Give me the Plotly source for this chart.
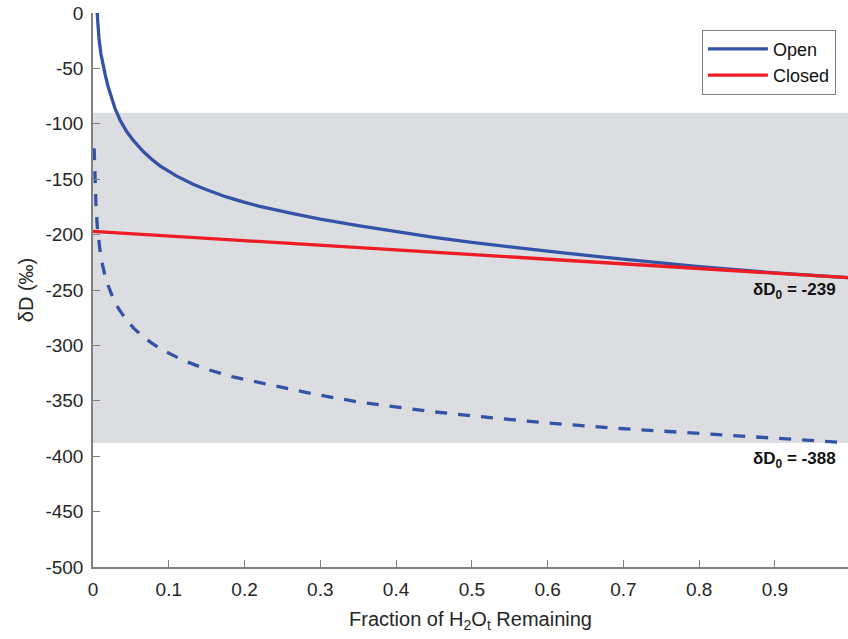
import plotly.graph_objects as go

# Fraction of H2Ot remaining and the modelled deltaD values (per mil)
open_f = [0.0055, 0.008, 0.0105, 0.0136, 0.0165, 0.0202, 0.025, 0.029, 0.036, 0.0444,
          0.0532, 0.0664, 0.0775, 0.0884, 0.11, 0.132, 0.15, 0.176, 0.198, 0.22,
          0.264, 0.3, 0.35, 0.405, 0.45, 0.5, 0.537, 0.6, 0.696, 0.8, 0.9, 1.0]
open_dd = [0, -24, -37, -48, -57, -67, -78, -86, -97, -107,
           -115, -125, -132, -138, -147, -154.5, -159.5, -166, -170.5, -174.5,
           -181, -186, -192, -198, -202.5, -207, -210, -215, -222, -229, -234.5, -239]

open_low_f = [0.0015, 0.0025, 0.004, 0.0057, 0.0092, 0.0125, 0.0158, 0.02, 0.0268, 0.034,
              0.042, 0.053, 0.0664, 0.0884, 0.119, 0.15, 0.185, 0.2467, 0.3, 0.35,
              0.405, 0.45, 0.537, 0.6, 0.696, 0.8, 0.9, 1.0]
open_low_dd = [-122, -150, -175, -193, -214, -227, -237, -246, -258, -267,
               -275, -284, -292.5, -303, -313.5, -321.5, -328.5, -337.5, -345, -351,
               -356, -360, -366, -370, -375, -379.5, -384, -388]

closed_f = [0.0, 1.0]
closed_dd = [-197, -239]

# Shaded range of deltaD
band_top = -90
band_bottom = -388

x_ticks = [0, 0.1, 0.2, 0.3, 0.4, 0.5, 0.6, 0.7, 0.8, 0.9, 1]
x_tick_text = ["0", "0.1", "0.2", "0.3", "0.4", "0.5", "0.6", "0.7", "0.8", "0.9", "1"]
y_ticks = [0, -50, -100, -150, -200, -250, -300, -350, -400, -450, -500]
y_tick_text = ["0", "-50", "-100", "-150", "-200", "-250", "-300", "-350", "-400", "-450", "-500"]

start_labels = ["δD<sub>0</sub> = -239", "δD<sub>0</sub> = -388"]
start_label_y = [-251, -403]

blue = "#3553a6"
red = "#ee1c25"
axis_gray = "#808080"
text_gray = "#262626"
font_family = "Liberation Sans, Arial, sans-serif"

fig = go.Figure()

fig.add_shape(type="rect", xref="x", yref="y", x0=0, x1=1,
              y0=band_bottom, y1=band_top, fillcolor="#dcdde0",
              line_width=0, layer="below")

fig.add_trace(go.Scatter(x=open_f, y=open_dd, mode="lines", name="Open",
                         line=dict(color=blue, width=3.3)))
fig.add_trace(go.Scatter(x=closed_f, y=closed_dd, mode="lines", name="Closed",
                         line=dict(color=red, width=3.3)))
fig.add_trace(go.Scatter(x=open_low_f, y=open_low_dd, mode="lines", showlegend=False,
                         line=dict(color=blue, width=3.3, dash="12px,11px")))

for txt, yv in zip(start_labels, start_label_y):
    fig.add_annotation(x=0.983, y=yv, xref="x", yref="y", text=f"<b>{txt}</b>",
                       showarrow=False, xanchor="right", yanchor="middle",
                       font=dict(size=17, color="#111111", family=font_family))

fig.update_layout(
    width=848, height=639,
    margin=dict(l=93, r=0, t=13, b=72),
    paper_bgcolor="white", plot_bgcolor="white",
    font=dict(family=font_family, color=text_gray, size=19),
    showlegend=True,
    legend=dict(x=0.984, y=0.97, xanchor="right", yanchor="top",
                bgcolor="white", bordercolor=axis_gray, borderwidth=1,
                font=dict(size=18, color="#111111"), itemwidth=60,
                tracegroupgap=0),
)

fig.update_xaxes(
    range=[0, 0.9965], tickvals=x_ticks, ticktext=x_tick_text,
    ticks="inside", ticklen=7, tickcolor=axis_gray, tickwidth=1,
    showline=True, linecolor=axis_gray, linewidth=1.5,
    showgrid=False, zeroline=False, ticklabelstandoff=4,
    title=dict(text="Fraction of H<sub>2</sub>O<sub>t</sub> Remaining",
               font=dict(size=20, color=text_gray), standoff=13),
)
fig.update_yaxes(
    range=[-500, 0], tickvals=y_ticks, ticktext=y_tick_text,
    ticks="inside", ticklen=7, tickcolor=axis_gray, tickwidth=1,
    showline=True, linecolor=axis_gray, linewidth=1.5,
    showgrid=False, zeroline=False, ticklabelstandoff=4,
    title=dict(text="δD (‰)", font=dict(size=20, color=text_gray), standoff=6),
)

fig.write_html("out.html")
